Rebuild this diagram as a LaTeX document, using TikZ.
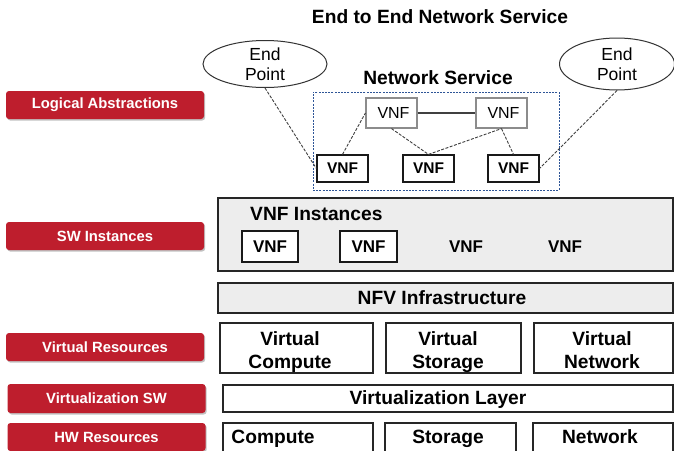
\documentclass[tikz,border=0pt]{standalone}
\usepackage{fontspec}
\setmainfont{Liberation Sans}
\usetikzlibrary{shapes.geometric,shadows}
\definecolor{redlab}{HTML}{BE1E2D}
\definecolor{grayfill}{HTML}{EDEDED}
\definecolor{nsblue}{HTML}{2E5597}
\tikzset{
  redlabel/.style={draw=none, fill=redlab, rounded corners=3pt, minimum width=198pt, minimum height=28pt,
    text=white, font=\fontsize{14.8}{17}\selectfont\bfseries, inner sep=0pt,
    drop shadow={shadow xshift=1.2pt, shadow yshift=-1.5pt, fill=black!40, opacity=0.6}},
  layerbox/.style={draw=black!85, line width=1.2pt, inner sep=0pt},
  biglbl/.style={font=\fontsize{19.2}{23}\selectfont\bfseries, inner sep=0pt, align=center,
    execute at end node=\strut},
  vnfb/.style={draw=black!90, line width=1.2pt, fill=white, minimum width=51pt, minimum height=27pt, inner sep=0pt,
    font=\fontsize{15.5}{18}\selectfont\bfseries},
  vnft/.style={draw=black!45, line width=1.2pt, fill=white, minimum width=51pt, minimum height=30pt, inner sep=0pt,
    font=\fontsize{16}{18}\selectfont},
  endp/.style={ellipse, draw=black!80, line width=1pt, inner sep=0pt, align=center,
    font=\fontsize{17.5}{20}\selectfont},
  conn/.style={dashed, dash pattern=on 3pt off 1.5pt, line width=0.9pt, black!75},
}
\begin{document}
\begin{tikzpicture}[x=1pt,y=-1pt]
\useasboundingbox (0,0) rectangle (674,450);
\fill[white] (0,0) rectangle (674,450);

% Left red labels
\node[redlabel] (la) at (105,105) {Logical Abstractions};
\node[redlabel] (sw) at (105,236) {SW Instances};
\node[redlabel] (vr) at (105,347) {Virtual Resources};
\node[redlabel, minimum height=29pt] (vsw) at (106.5,398.5) {Virtualization SW};
\node[redlabel] (hw) at (106.5,437) {HW Resources};

% Title
\node[biglbl] (title) at (440,19) {End to End Network Service};

% End points
\node[endp, minimum width=124pt, minimum height=47pt] (ep1) at (265,64) {End\\Point};
\node[endp, minimum width=115pt, minimum height=52pt] (ep2) at (617,64) {End\\Point};

% Network service
\node[biglbl] (nstitle) at (438,80) {Network Service};
\node[draw=nsblue, dashed, dash pattern=on 2pt off 1.2pt, line width=0.9pt, minimum width=246pt, minimum height=98pt, inner sep=0pt] (nsbox) at (436,141) {};

\node[vnft] (tl) at (391.5,113) {\hspace{4pt}VNF};
\node[vnft] (tr) at (501.5,113) {\hspace{4pt}VNF};
\node[vnfb] (bl) at (342.5,168.5) {VNF};
\node[vnfb] (bm) at (428.5,168.5) {VNF};
\node[vnfb] (br) at (513.5,168.5) {VNF};

\draw[line width=1.6pt, black!75] (tl.east) -- (tr.west);
\draw[conn] (ep1.south) -- (bl.west);
\draw[conn] (bl.north) -- (tl.west);
\draw[conn] (tl.south) -- (bm.north);
\draw[conn] (bm.north) -- (tr.south);
\draw[conn] (tr.south) -- (br.north);
\draw[conn] (ep2.south) -- (br.east);

% VNF instances layer
\node[layerbox, fill=grayfill, minimum width=455pt, minimum height=73pt] (vnfinst) at (445.5,234.5) {};
\node[biglbl, anchor=west] (vnfinsttxt) at (250,216) {VNF Instances};
\node[vnfb, minimum width=56pt, minimum height=31pt, font=\fontsize{17}{20}\selectfont\bfseries] (v1) at (270,246.5) {VNF};
\node[vnfb, minimum width=57pt, minimum height=31pt, font=\fontsize{17}{20}\selectfont\bfseries] (v2) at (368.5,246.5) {VNF};
\node[font=\fontsize{17}{20}\selectfont\bfseries, inner sep=0pt] (v3) at (466,246.5) {VNF};
\node[font=\fontsize{17}{20}\selectfont\bfseries, inner sep=0pt] (v4) at (565,246.5) {VNF};

% NFV infrastructure
\node[layerbox, fill=grayfill, minimum width=455pt, minimum height=30pt] (nfvi) at (445.5,298) {};
\node[biglbl] (nfvitxt) at (442,300) {NFV Infrastructure};

% Virtual resources
\node[layerbox, minimum width=153pt, minimum height=50pt] (vc) at (296.5,348) {};
\node[biglbl] (vctxt) at (290,353) {Virtual\\Compute};
\node[layerbox, minimum width=135pt, minimum height=50pt] (vs) at (453.5,348) {};
\node[biglbl] (vstxt) at (448,353) {Virtual\\Storage};
\node[layerbox, minimum width=139pt, minimum height=50pt] (vn) at (603.5,348) {};
\node[biglbl] (vntxt) at (602,353) {Virtual\\Network};

% Virtualization layer
\node[layerbox, minimum width=450pt, minimum height=27pt] (vl) at (448,398.5) {};
\node[biglbl] (vltxt) at (438,400) {Virtualization Layer};

% HW resources
\node[layerbox, minimum width=150pt, minimum height=32pt] (comp) at (298,439) {};
\node[biglbl] (comptxt) at (273,439) {Compute};
\node[layerbox, minimum width=131pt, minimum height=32pt] (stor) at (450.5,439) {};
\node[biglbl] (stortxt) at (448,439) {Storage};
\node[layerbox, minimum width=140pt, minimum height=32pt] (net) at (603,439) {};
\node[biglbl] (nettxt) at (600,439) {Network};
\end{tikzpicture}
\end{document}
